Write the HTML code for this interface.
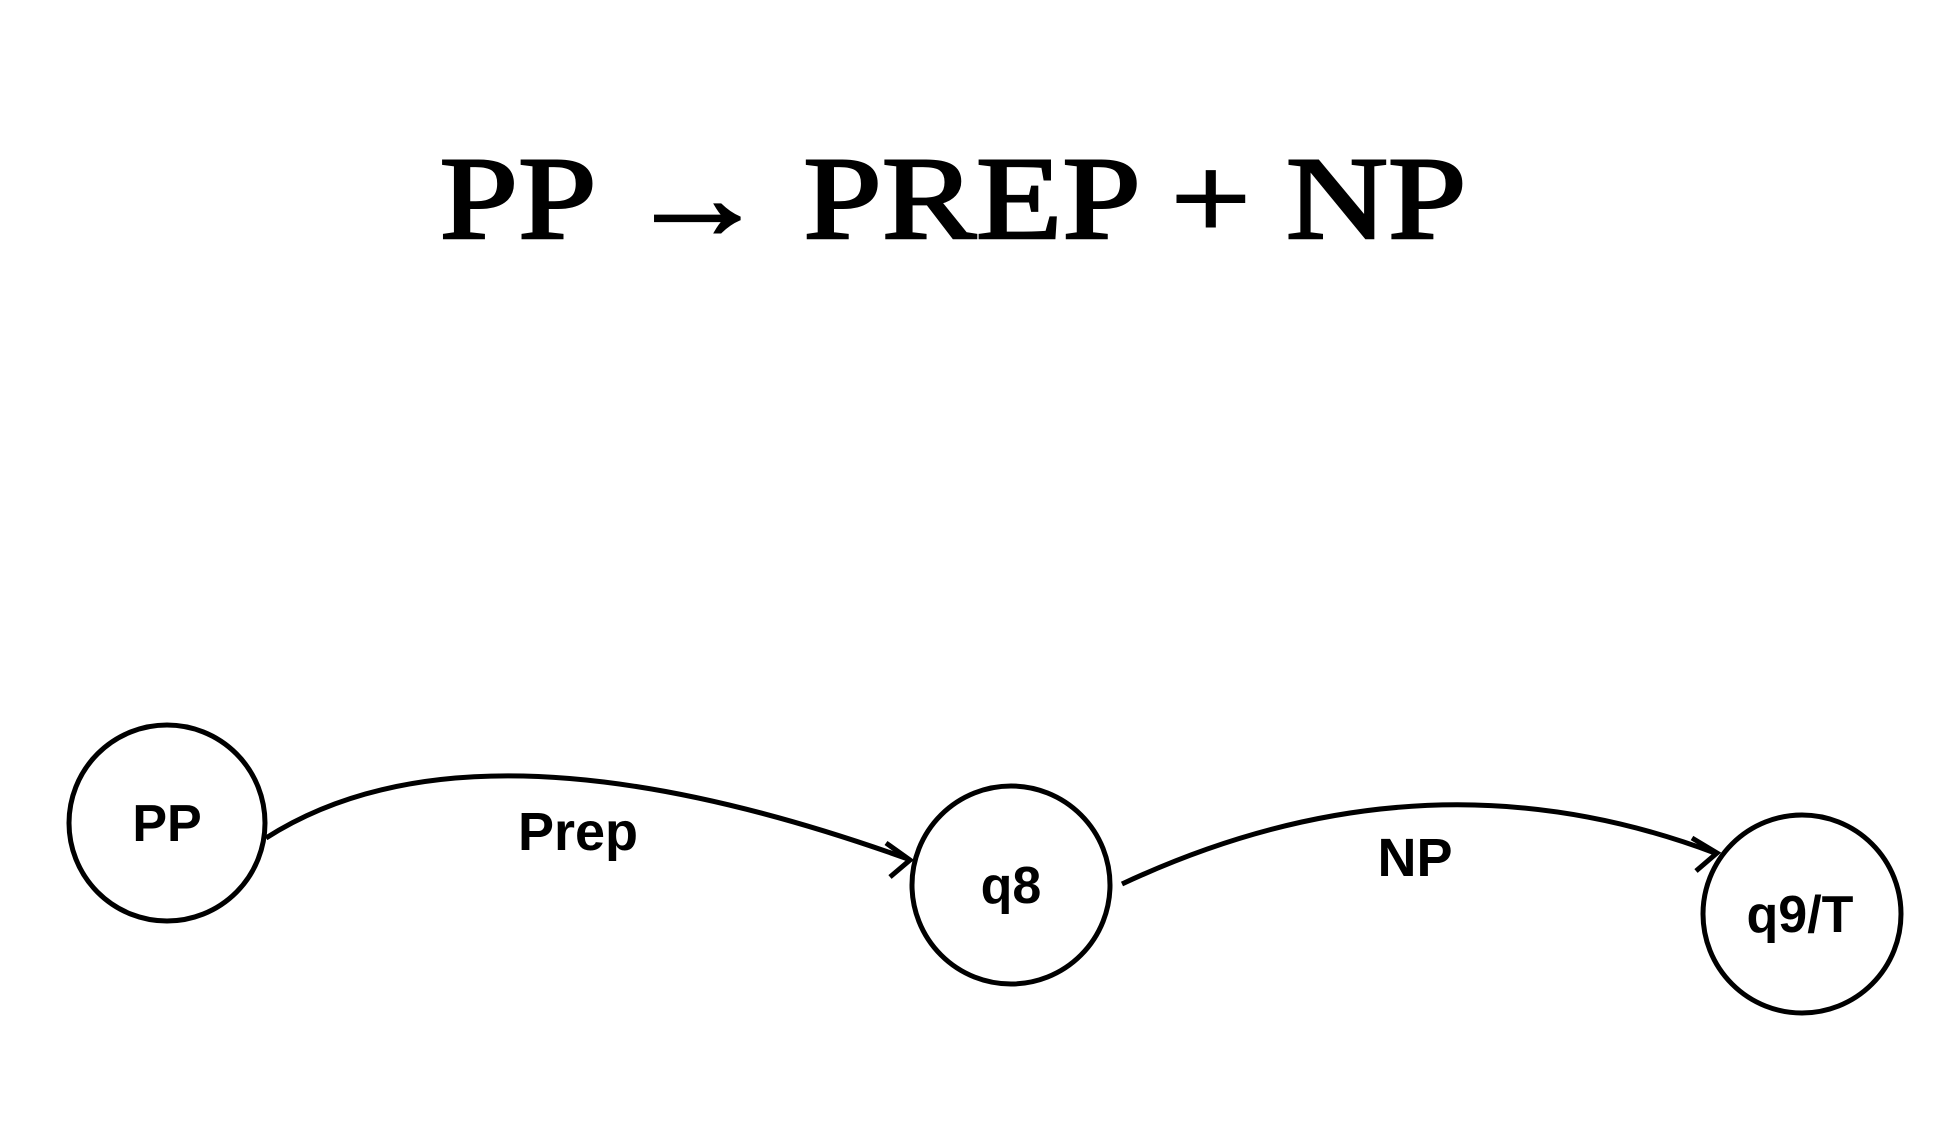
<!DOCTYPE html>
<html><head><meta charset="utf-8"><style>
html,body{margin:0;padding:0;background:#fff;}
svg{display:block;}
</style></head><body>
<svg width="1938" height="1142" viewBox="0 0 1938 1142">
<text x="953" y="238" text-anchor="middle" font-family="Liberation Serif, serif" font-size="118" fill="#000" stroke="#000" stroke-width="2.5" textLength="1027" lengthAdjust="spacingAndGlyphs">PP → PREP + NP</text>

<g>
<path d="M266,838 Q475,704 908,859" fill="none" stroke="#000" stroke-width="5"/>
<path d="M886,843 L910,860 L890,877" fill="none" stroke="#000" stroke-width="5"/>
</g>
<text x="578" y="850" text-anchor="middle" font-family="Liberation Sans, sans-serif" font-weight="bold" font-size="54" fill="#000">Prep</text>

<g>
<path d="M1122,884 Q1423,743 1715,853" fill="none" stroke="#000" stroke-width="5"/>
<path d="M1692,838 L1717,853 L1696,871" fill="none" stroke="#000" stroke-width="5"/>
</g>
<text x="1415" y="876" text-anchor="middle" font-family="Liberation Sans, sans-serif" font-weight="bold" font-size="54" fill="#000">NP</text>

<g>
<circle cx="167" cy="823" r="98" fill="none" stroke="#000" stroke-width="5"/>
<text x="167" y="841" text-anchor="middle" font-family="Liberation Sans, sans-serif" font-weight="bold" font-size="52" fill="#000">PP</text>
</g>
<g>
<circle cx="1011" cy="885" r="99" fill="none" stroke="#000" stroke-width="5"/>
<text x="1011" y="903" text-anchor="middle" font-family="Liberation Sans, sans-serif" font-weight="bold" font-size="52" fill="#000">q8</text>
</g>
<g>
<circle cx="1802" cy="914" r="99" fill="none" stroke="#000" stroke-width="5"/>
<text x="1800" y="932" text-anchor="middle" font-family="Liberation Sans, sans-serif" font-weight="bold" font-size="52" fill="#000">q9/T</text>
</g>
</svg>
</body></html>
